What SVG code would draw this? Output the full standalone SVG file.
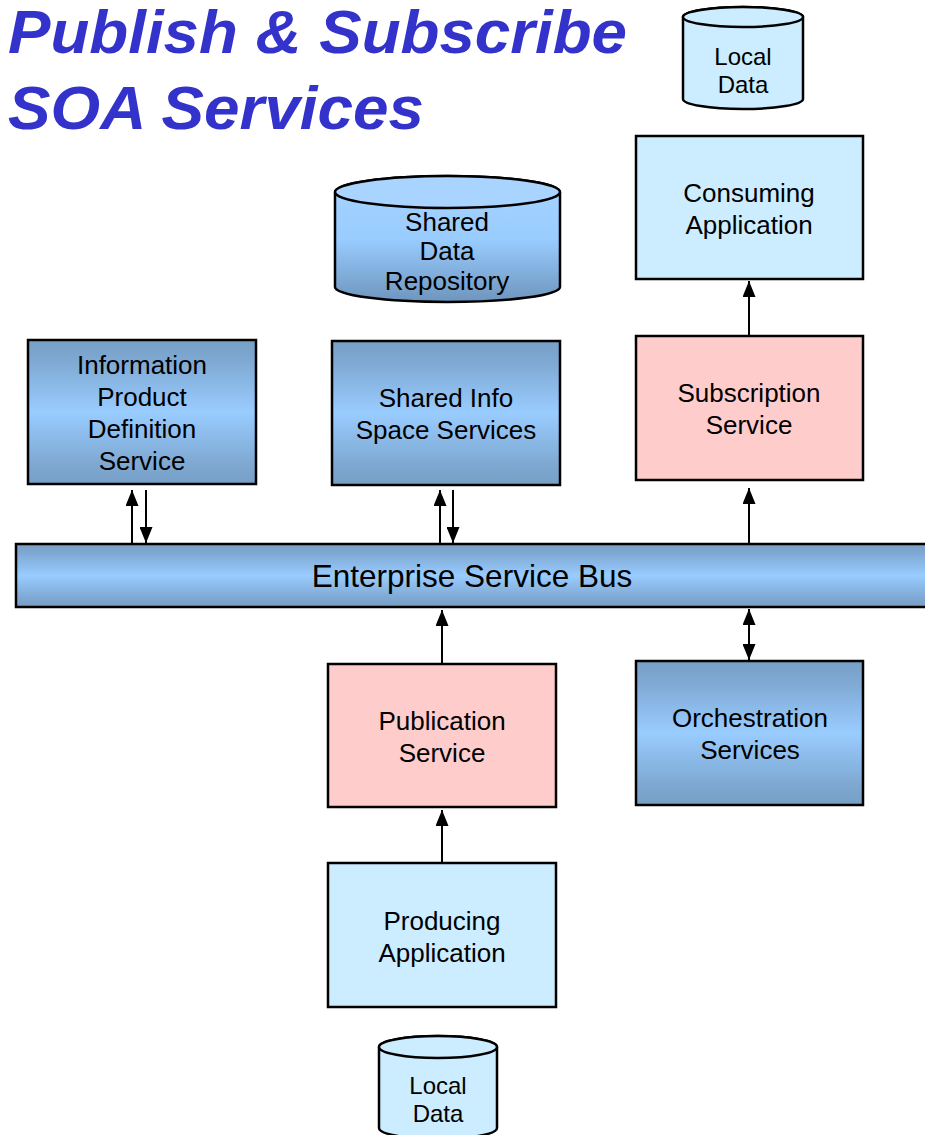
<svg xmlns="http://www.w3.org/2000/svg" width="925" height="1135" viewBox="0 0 925 1135">
<defs>
<linearGradient id="gb" x1="0" y1="0" x2="0" y2="1">
<stop offset="0" stop-color="#779FC6"/>
<stop offset="0.15" stop-color="#7FA9D3"/>
<stop offset="0.5" stop-color="#99CCFF"/>
<stop offset="0.85" stop-color="#7FA9D3"/>
<stop offset="1" stop-color="#779FC6"/>
</linearGradient>
<linearGradient id="gc" x1="0" y1="0" x2="0" y2="1">
<stop offset="0" stop-color="#A8D4FF"/>
<stop offset="0.5" stop-color="#99CCFF"/>
<stop offset="1" stop-color="#6E95BD"/>
</linearGradient>
<marker id="ah" viewBox="0 0 16 13" refX="16" refY="6.5" markerWidth="16" markerHeight="13" markerUnits="userSpaceOnUse" orient="auto">
<path d="M0,0 L16,6.5 L0,13 Z" fill="#000"/>
</marker>
</defs>
<style>
.box{stroke:#000;stroke-width:2.5}
.blue{fill:url(#gb)}
.light{fill:#CCECFF}
.pink{fill:#FFCCCC}
.t{font-family:"Liberation Sans",Arial,sans-serif;font-size:26px;fill:#000;text-anchor:middle}
.s{font-size:24px}
.b{font-size:31.5px}
.ln{stroke:#000;stroke-width:2;fill:none}
</style>
<g id="title" font-family="Liberation Sans,Arial,sans-serif" font-weight="bold" font-style="italic" font-size="62" fill="#3333CC">
<text x="8" y="53" textLength="619" lengthAdjust="spacingAndGlyphs">Publish &amp; Subscribe</text>
<text x="8" y="129" textLength="416" lengthAdjust="spacingAndGlyphs">SOA Services</text>
</g>
<g id="local-data-top">
<path class="box light" d="M683,17 L683,99 A60,10 0 0 0 803,99 L803,17 A60,10 0 0 0 683,17 Z"/>
<ellipse class="box light" cx="743" cy="17" rx="60" ry="10"/>
<text class="t s" x="743" y="65">Local</text>
<text class="t s" x="743" y="93">Data</text>
</g>
<g id="consuming-app">
<rect class="box light" x="636" y="136" width="227" height="143"/>
<text class="t" x="749" y="202">Consuming</text>
<text class="t" x="749" y="234">Application</text>
</g>
<g id="subscription-service">
<rect class="box pink" x="636" y="336" width="227" height="144"/>
<text class="t" x="749" y="402">Subscription</text>
<text class="t" x="749" y="434">Service</text>
</g>
<g id="shared-data-repository">
<path class="box" fill="url(#gc)" d="M335,192 L335,287 A112.5,15 0 0 0 560,287 L560,192 A112.5,16 0 0 0 335,192 Z"/>
<ellipse class="box" fill="#A8D4FF" cx="447.5" cy="192" rx="112.5" ry="16"/>
<text class="t" x="447" y="231">Shared</text>
<text class="t" x="447" y="260">Data</text>
<text class="t" x="447" y="290">Repository</text>
</g>
<g id="info-product-definition">
<rect class="box blue" x="28" y="340" width="228" height="144"/>
<text class="t" x="142" y="374">Information</text>
<text class="t" x="142" y="406">Product</text>
<text class="t" x="142" y="438">Definition</text>
<text class="t" x="142" y="470">Service</text>
</g>
<g id="shared-info-space">
<rect class="box blue" x="332" y="341" width="228" height="144"/>
<text class="t" x="446" y="407">Shared Info</text>
<text class="t" x="446" y="439">Space Services</text>
</g>
<g id="esb">
<rect class="box blue" x="16" y="544" width="920" height="63"/>
<text class="t b" x="472" y="587">Enterprise Service Bus</text>
</g>
<g id="publication-service">
<rect class="box pink" x="328" y="664" width="228" height="143"/>
<text class="t" x="442" y="730">Publication</text>
<text class="t" x="442" y="762">Service</text>
</g>
<g id="orchestration-services">
<rect class="box blue" x="636" y="661" width="227" height="144"/>
<text class="t" x="750" y="727">Orchestration</text>
<text class="t" x="750" y="759">Services</text>
</g>
<g id="producing-app">
<rect class="box light" x="328" y="863" width="228" height="144"/>
<text class="t" x="442" y="930">Producing</text>
<text class="t" x="442" y="962">Application</text>
</g>
<g id="local-data-bottom">
<path class="box light" d="M379,1047 L379,1128 A59,11 0 0 0 497,1128 L497,1047 A59,11 0 0 0 379,1047 Z"/>
<ellipse class="box light" cx="438" cy="1047" rx="59" ry="11"/>
<text class="t s" x="438" y="1094">Local</text>
<text class="t s" x="438" y="1122">Data</text>
</g>
<g id="connectors">
<line class="ln" x1="749" y1="336" x2="749" y2="281" marker-end="url(#ah)"/>
<line class="ln" x1="749" y1="543" x2="749" y2="488" marker-end="url(#ah)"/>
<line class="ln" x1="132" y1="543" x2="132" y2="490" marker-end="url(#ah)"/>
<line class="ln" x1="146" y1="490" x2="146" y2="543" marker-end="url(#ah)"/>
<line class="ln" x1="440" y1="543" x2="440" y2="490" marker-end="url(#ah)"/>
<line class="ln" x1="453" y1="490" x2="453" y2="543" marker-end="url(#ah)"/>
<line class="ln" x1="442" y1="663" x2="442" y2="610" marker-end="url(#ah)"/>
<line class="ln" x1="442" y1="862" x2="442" y2="810" marker-end="url(#ah)"/>
<line class="ln" x1="749" y1="634" x2="749" y2="609" marker-end="url(#ah)"/>
<line class="ln" x1="749" y1="634" x2="749" y2="660" marker-end="url(#ah)"/>
</g>
</svg>
